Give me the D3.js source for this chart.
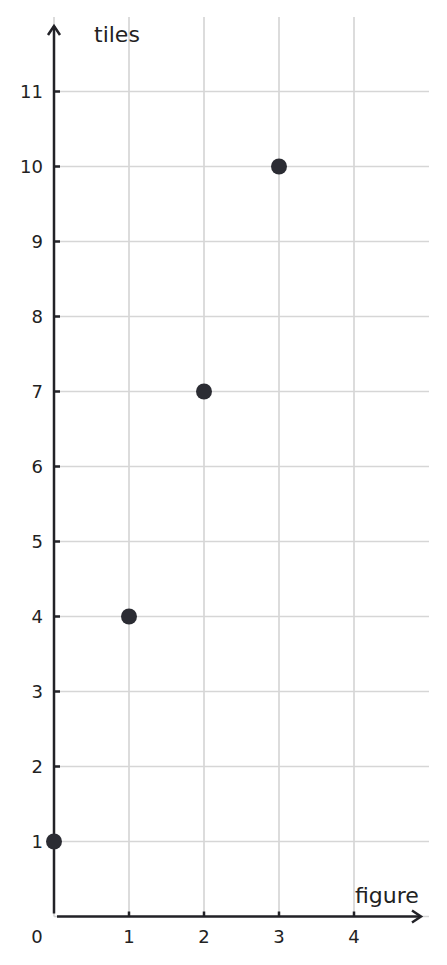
<!DOCTYPE html>
<html>
<head>
    <meta charset="utf-8">
    <title>tiles</title>
    <style>
        body { margin: 0; background: #fff; }
        text { font-family: "DejaVu Sans", sans-serif; fill: #222; }
    </style>
</head>
<body>
    <svg></svg>
    <script src="https://d3js.org/d3.v7.min.js"></script>
    <script>
        var figures = [0, 1, 2, 3];
        var tiles = [1, 4, 7, 10];
        var xTicks = [1, 2, 3, 4];
        var yTicks = [1, 2, 3, 4, 5, 6, 7, 8, 9, 10, 11];
        var xLabel = 'figure', yLabel = 'tiles';

        var width = 447, height = 965;
        var x = d3.scaleLinear().domain([0, 4]).range([54, 354]),
            y = d3.scaleLinear().domain([0, 11]).range([916.5, 91.5]);
        var ink = '#222227', grid = '#d6d6d6';

        var svg = d3.select('svg').attr('width', width).attr('height', height);

        // grid
        svg.append('g').selectAll('line').data([0].concat(xTicks)).join('line')
            .attr('x1', d => x(d)).attr('x2', d => x(d))
            .attr('y1', 17).attr('y2', y(0))
            .attr('stroke', grid).attr('stroke-width', 1.7);
        svg.append('g').selectAll('line').data([0].concat(yTicks)).join('line')
            .attr('x1', x(0)).attr('x2', 429)
            .attr('y1', d => y(d)).attr('y2', d => y(d))
            .attr('stroke', grid).attr('stroke-width', 1.7);

        // axes
        var axes = svg.append('g').attr('stroke', ink).attr('stroke-width', 2.5).attr('fill', 'none');
        axes.append('line').attr('x1', x(0)).attr('x2', x(0)).attr('y1', y(0) - 3).attr('y2', 26);
        axes.append('path').attr('d', `M${x(0) - 6},${35} L${x(0)},${26} L${x(0) + 6},${35}`);
        axes.append('line').attr('x1', x(0) + 3).attr('x2', 421).attr('y1', y(0)).attr('y2', y(0));
        axes.append('path').attr('d', `M${412},${y(0) - 6} L${421},${y(0)} L${412},${y(0) + 6}`);

        // ticks
        axes.selectAll('.xt').data(xTicks).join('line').attr('class', 'xt')
            .attr('x1', d => x(d)).attr('x2', d => x(d)).attr('y1', y(0)).attr('y2', y(0) - 5);
        axes.selectAll('.yt').data(yTicks).join('line').attr('class', 'yt')
            .attr('x1', x(0)).attr('x2', x(0) + 6).attr('y1', d => y(d)).attr('y2', d => y(d));

        // tick labels
        svg.append('g').selectAll('text').data(xTicks).join('text')
            .attr('x', d => x(d)).attr('y', 943).attr('text-anchor', 'middle')
            .attr('font-size', 18).text(d => d);
        svg.append('text').attr('x', 37).attr('y', 943).attr('text-anchor', 'middle')
            .attr('font-size', 18).text(0);
        svg.append('g').selectAll('text').data(yTicks).join('text')
            .attr('x', 43).attr('y', d => y(d)).attr('dy', '0.35em').attr('text-anchor', 'end')
            .attr('font-size', 18).text(d => d);

        // axis titles
        svg.append('text').attr('x', 94).attr('y', 42).attr('font-size', 22).text(yLabel);
        svg.append('text').attr('x', 355).attr('y', 903).attr('font-size', 22).text(xLabel);

        // points
        svg.append('g').selectAll('circle').data(figures).join('circle')
            .attr('cx', (d, i) => x(d)).attr('cy', (d, i) => y(tiles[i]))
            .attr('r', 8).attr('fill', '#2b2c33');
    </script>
</body>
</html>
